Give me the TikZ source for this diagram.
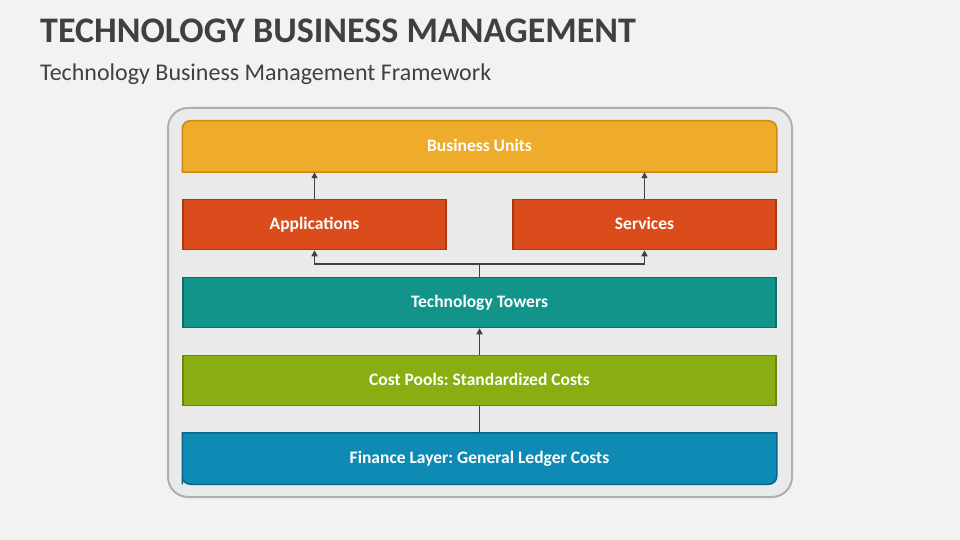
\documentclass[tikz,border=0pt]{standalone}
\usepackage{fontspec}
\setmainfont{Carlito}
\usetikzlibrary{arrows.meta,backgrounds}
\tikzset {>={Triangle[length=6pt,width=6pt]}}
\frenchspacing

\definecolor{pagebg}{RGB}{242,242,242}
\definecolor{framefill}{RGB}{234,234,234}
\definecolor{frameline}{RGB}{176,174,176}
\definecolor{inkgray}{RGB}{64,64,64}
\definecolor{unitsfill}{RGB}{239,171,43}
\definecolor{unitsline}{RGB}{204,137,16}
\definecolor{appsfill}{RGB}{219,76,28}
\definecolor{appsline}{RGB}{170,56,20}
\definecolor{towerfill}{RGB}{18,148,138}
\definecolor{towerline}{RGB}{12,110,102}
\definecolor{poolfill}{RGB}{138,174,18}
\definecolor{poolline}{RGB}{106,134,14}
\definecolor{financefill}{RGB}{14,139,180}
\definecolor{financeline}{RGB}{10,102,134}

\begin{document}
\begin{tikzpicture}[x=1pt,y=-1pt,
  layer/.style={minimum height=50pt,inner sep=0pt,line width=1.5pt,
    text height=11.4pt,text depth=2pt,
    text=white,font=\fontsize{17.5}{20}\selectfont\bfseries},
  link/.style={line width=1.6pt,draw=inkgray}]
\useasboundingbox (0,0) rectangle (960,540);

\node[anchor=base west,text=inkgray,inner sep=0pt,
  font=\fontsize{36}{40}\selectfont\bfseries] (title) at (40,43)
  {TECHNOLOGY BUSINESS MANAGEMENT};
\node[anchor=base west,text=inkgray,inner sep=0pt,
  font=\fontsize{24}{28}\selectfont] (subtitle) at (40,81)
  {Technology Business Management Framework};

\node[layer,minimum width=593pt] (units) at (479.5,146.5) {Business Units};
\node[layer,minimum width=263pt,fill=appsfill,draw=appsline] (apps) at (314.5,224.5) {Applications};
\node[layer,minimum width=263pt,fill=appsfill,draw=appsline] (services) at (644.5,224.5) {Services};
\node[layer,minimum width=593pt,fill=towerfill,draw=towerline] (towers) at (479.5,302.5) {Technology Towers};
\node[layer,minimum width=593pt,fill=poolfill,draw=poolline] (pools) at (479.5,380.5) {Cost Pools: Standardized Costs};
\node[layer,minimum width=593pt] (finance) at (479.5,458.5) {Finance Layer: General Ledger Costs};

\begin{scope}[on background layer]
  \fill[pagebg] (0,0) rectangle (960,540);
  \draw[fill=framefill,draw=frameline,line width=2pt,rounded corners=20pt]
    (168,108) rectangle (792,497);
  \draw[fill=unitsfill,draw=unitsline,line width=1.5pt]
    (units.south west) [rounded corners=8pt] -- (units.north west) --
    (units.north east) [sharp corners] -- (units.south east) -- cycle;
  \draw[fill=financefill,draw=financeline,line width=1.5pt]
    (finance.south west) [sharp corners] -- (finance.north west) --
    (finance.north east) [rounded corners=8pt] -- (finance.south east) --
    (finance.south west) [sharp corners] -- cycle;
\end{scope}

\draw[link,->] (apps.north) -- (apps.north |- units.south);
\draw[link,->] (services.north) -- (services.north |- units.south);
\draw[link,->] (towers.north) -- ++(0,-13) coordinate (split) -| (apps.south);
\draw[link,->] (split) -| (services.south);
\draw[link,->] (pools.north) -- (towers.south);
\draw[link] (finance.north) -- (pools.south);
\end{tikzpicture}
\end{document}
